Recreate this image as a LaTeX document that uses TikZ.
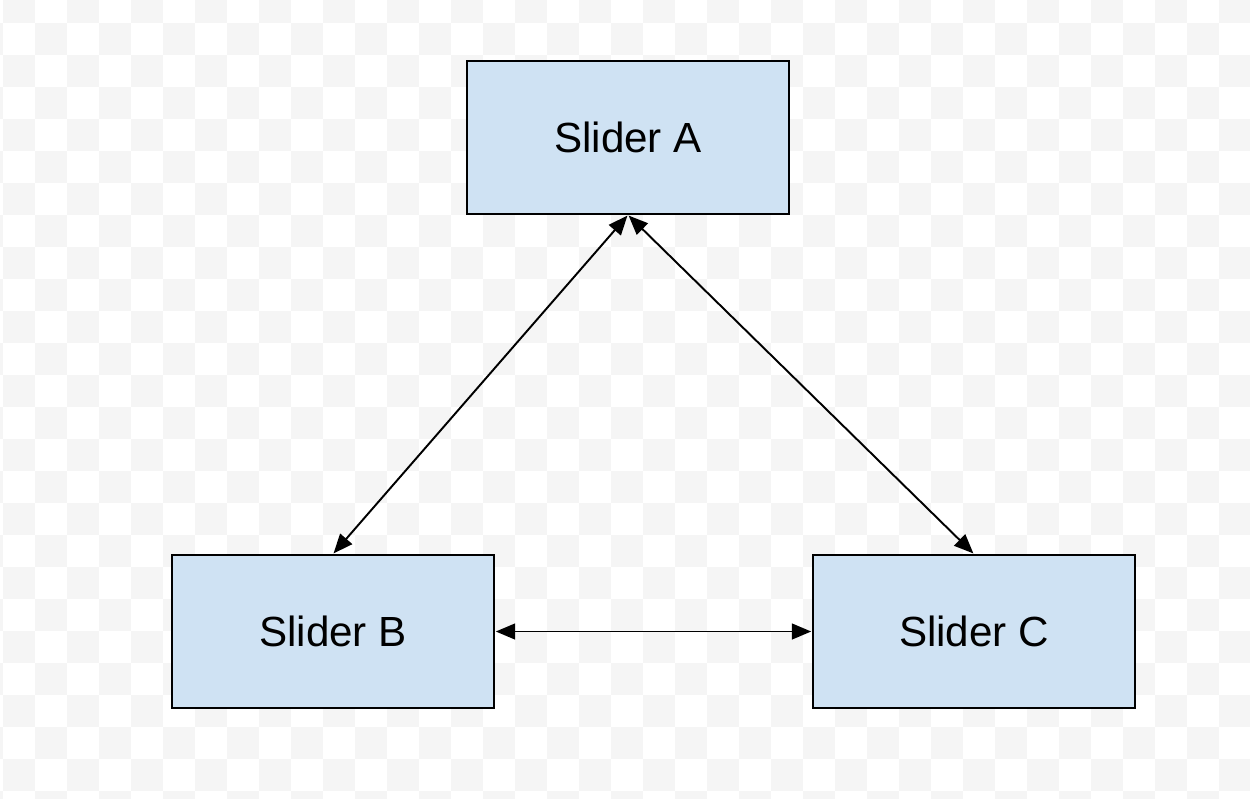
\documentclass[tikz,border=0pt]{standalone}
\usepackage{fontspec}
\setmainfont{Liberation Sans}
\usetikzlibrary{arrows.meta}
\definecolor{checker}{RGB}{245,245,245}
\definecolor{sliderfill}{RGB}{207,226,243}
\definecolor{ink}{RGB}{0,0,0}

\begin{document}
\begin{tikzpicture}[
  x=0.02cm, y=-0.02cm,
  slider/.style={
    draw=ink, fill=sliderfill, line width=1.1pt,
    minimum width=6.44cm, minimum height=3.06cm,
    font=\fontsize{24}{29}\selectfont, text=ink
  },
  link/.style={
    {Triangle[length=11pt,width=9pt]}-{Triangle[length=11pt,width=9pt]},
    line width=1.1pt, draw=ink, shorten <=0.5pt, shorten >=0.5pt
  }
]

% Page with a faint transparency grid behind it.
\useasboundingbox (0,0) rectangle (1250,798);
\clip (0,0) rectangle (1250,798);
\fill[white] (0,0) rectangle (1250,798);
\foreach \r in {0,...,25} {
  \pgfmathtruncatemacro\shift{mod(\r,2)}
  \foreach \c in {-2,0,...,38}
    \fill[checker] ({3+32*(\c+\shift)},{-9+32*\r}) rectangle ++(32,32);
}

% The three sliders.
\node[slider] (sliderA) at (628,137.5) {Slider A};
\node[slider] (sliderB) at (333,631.5) {Slider B};
\node[slider] (sliderC) at (974,631.5) {Slider C};

% Every slider is linked both ways to the others.
\draw[link] (sliderA.south) -- (sliderB.north);
\draw[link] (sliderA.south) -- (sliderC.north);
\draw[link] (sliderB.east) -- (sliderC.west);

\end{tikzpicture}
\end{document}
